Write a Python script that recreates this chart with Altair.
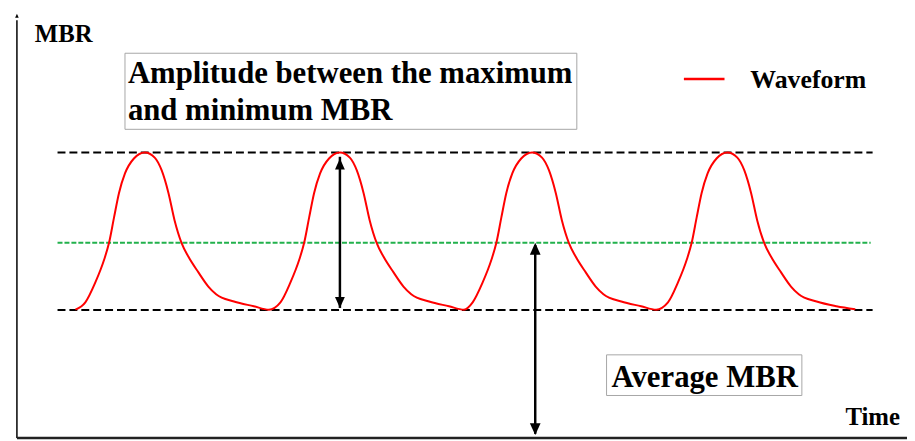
import altair as alt
import pandas as pd

# ---------------- data ----------------
# waveform samples: time (s) and MBR value
wave_time = [
    0.301, 0.352, 0.403, 0.449, 0.474, 0.500, 0.525, 0.556, 0.602, 0.658, 0.709,
    0.745, 0.780, 0.811, 0.847, 0.882, 0.934, 0.985, 1.025, 1.117, 1.219, 1.296,
    1.356, 1.407, 1.453, 1.478, 1.504, 1.529, 1.560, 1.606, 1.662, 1.713, 1.749,
    1.784, 1.815, 1.851, 1.886, 1.938, 1.989, 2.029, 2.121, 2.223, 2.300,
    2.345, 2.396, 2.442, 2.467, 2.493, 2.518, 2.549, 2.595, 2.651, 2.702, 2.738,
    2.773, 2.804, 2.840, 2.875, 2.927, 2.978, 3.018, 3.110, 3.212, 3.289,
    3.350, 3.401, 3.447, 3.472, 3.498, 3.523, 3.554, 3.600, 3.656, 3.707, 3.743,
    3.778, 3.809, 3.845, 3.880, 3.932, 3.983, 4.023, 4.115, 4.217, 4.314,
]
wave_mbr = [
    3.00, 3.17, 3.63, 4.17, 4.56, 5.16, 5.72, 6.18, 6.53, 6.67, 6.55,
    6.25, 5.72, 5.09, 4.56, 4.24, 3.87, 3.54, 3.36, 3.19, 3.08, 3.00,
    3.17, 3.63, 4.17, 4.56, 5.16, 5.72, 6.18, 6.53, 6.67, 6.55, 6.25,
    5.72, 5.09, 4.56, 4.24, 3.87, 3.54, 3.36, 3.19, 3.08, 3.00,
    3.17, 3.63, 4.17, 4.56, 5.16, 5.72, 6.18, 6.53, 6.67, 6.55, 6.25,
    5.72, 5.09, 4.56, 4.24, 3.87, 3.54, 3.36, 3.19, 3.08, 3.00,
    3.17, 3.63, 4.17, 4.56, 5.16, 5.72, 6.18, 6.53, 6.67, 6.55, 6.25,
    5.72, 5.09, 4.56, 4.24, 3.87, 3.54, 3.36, 3.19, 3.08, 3.01,
]

mbr_max = 6.67
mbr_min = 2.99
mbr_avg = 4.56
ref_start, ref_end = 0.209, 4.403      # extent of the max / min dashed lines
avg_start, avg_end = 0.209, 4.393      # extent of the average dashed line

amp_arrow_t = 1.662                    # amplitude double arrow
avg_arrow_t = 2.667                    # average double arrow

axis_top = 9.91                        # tip of the y-axis arrow
time_max = 4.58

amp_lines = ["Amplitude between the maximum", "and minimum MBR"]
amp_box = dict(t0=0.556, t1=2.881, v0=7.211, v1=8.988)
amp_text = dict(t=0.571, v=[8.294, 7.431])
avg_label = "Average MBR"
avg_box = dict(t0=3.034, t1=4.039, v0=0.995, v1=1.944)
avg_text = dict(t=3.060, v=1.204)
legend_label = "Waveform"
legend_line = dict(t0=3.432, t1=3.641, v=8.387)
legend_text = dict(t=3.774, v=8.171)
y_title = dict(text="MBR", t=0.092, v=9.243)
x_title = dict(text="Time", t=4.263, v=0.301)

# ---------------- chart ----------------
FONT = "'Times New Roman', 'Liberation Serif', Times, serif"
xs = alt.Scale(domain=[0, time_max], nice=False, zero=False)
ys = alt.Scale(domain=[0, 10], nice=False, zero=False)


def X(f):
    return alt.X(f, type="quantitative", scale=xs, axis=None)


def Y(f):
    return alt.Y(f, type="quantitative", scale=ys, axis=None)


UP = "M0,0 L-0.45,1 L0.45,1 Z"
DOWN = "M0,0 L-0.45,-1 L0.45,-1 Z"

wave_df = pd.DataFrame({"t": wave_time, "v": wave_mbr})
wave = alt.Chart(wave_df).mark_line(color="#ff0000", strokeWidth=2, interpolate="monotone").encode(
    x=X("t"), y=Y("v"))

ref_df = pd.DataFrame({"t0": [ref_start, ref_start], "t1": [ref_end, ref_end], "v": [mbr_max, mbr_min]})
ref = alt.Chart(ref_df).mark_rule(color="#000000", strokeWidth=2, strokeDash=[8, 4]).encode(
    x=X("t0"), x2="t1", y=Y("v"))

avg_df = pd.DataFrame({"t0": [avg_start], "t1": [avg_end], "v": [mbr_avg]})
avg = alt.Chart(avg_df).mark_rule(color="#22b14c", strokeWidth=2, strokeDash=[5, 2]).encode(
    x=X("t0"), x2="t1", y=Y("v"))

# axes drawn as arrows
axes_df = pd.DataFrame({"t0": [0, 0], "t1": [0, time_max], "v0": [0, 0], "v1": [axis_top - 0.15, 0]})
yaxis = alt.Chart(axes_df.iloc[[0]]).mark_rule(color="#000000", strokeWidth=1.5).encode(
    x=X("t0"), y=Y("v0"), y2="v1")
xaxis = alt.Chart(axes_df.iloc[[1]]).mark_rule(color="#222222", strokeWidth=2.5).encode(
    x=X("t0"), x2="t1", y=Y("v0"))
yhead = alt.Chart(pd.DataFrame({"t": [0], "v": [axis_top]})).mark_point(
    shape=UP, filled=True, size=64, color="#000000", opacity=1, strokeWidth=0).encode(x=X("t"), y=Y("v"))

# double arrows
shaft_df = pd.DataFrame({"t": [amp_arrow_t, avg_arrow_t], "v0": [mbr_min + 0.05, 0.1],
                         "v1": [mbr_max - 0.1, mbr_avg - 0.05]})
shafts = alt.Chart(shaft_df).mark_rule(color="#000000", strokeWidth=2.5).encode(
    x=X("t"), y=Y("v0"), y2="v1")
amp_up = alt.Chart(pd.DataFrame({"t": [amp_arrow_t], "v": [mbr_max - 0.14]})).mark_point(
    shape=UP, filled=True, size=484, color="#000000", opacity=1, strokeWidth=0).encode(x=X("t"), y=Y("v"))
amp_down = alt.Chart(pd.DataFrame({"t": [amp_arrow_t], "v": [mbr_min + 0.05]})).mark_point(
    shape=DOWN, filled=True, size=484, color="#000000", opacity=1, strokeWidth=0).encode(x=X("t"), y=Y("v"))
avg_up = alt.Chart(pd.DataFrame({"t": [avg_arrow_t], "v": [mbr_avg]})).mark_point(
    shape=UP, filled=True, size=576, color="#000000", opacity=1, strokeWidth=0).encode(x=X("t"), y=Y("v"))
avg_down = alt.Chart(pd.DataFrame({"t": [avg_arrow_t], "v": [0.07]})).mark_point(
    shape=DOWN, filled=True, size=576, color="#000000", opacity=1, strokeWidth=0).encode(x=X("t"), y=Y("v"))

# text boxes
box_df = pd.DataFrame([amp_box, avg_box])
boxes = alt.Chart(box_df).mark_rect(fill="#ffffff", stroke="#a6a6a6", strokeWidth=1).encode(
    x=X("t0"), x2="t1", y=Y("v0"), y2="v1")

big_df = pd.DataFrame({
    "t": [amp_text["t"], amp_text["t"], avg_text["t"]],
    "v": [amp_text["v"][0], amp_text["v"][1], avg_text["v"]],
    "label": [amp_lines[0], amp_lines[1], avg_label],
})
big_text = alt.Chart(big_df).mark_text(
    align="left", baseline="alphabetic", font=FONT, fontWeight="bold", fontSize=31, color="#000000"
).encode(x=X("t"), y=Y("v"), text="label")

small_df = pd.DataFrame({
    "t": [y_title["t"], x_title["t"]],
    "v": [y_title["v"], x_title["v"]],
    "label": [y_title["text"], x_title["text"]],
})
small_text = alt.Chart(small_df).mark_text(
    align="left", baseline="alphabetic", font=FONT, fontWeight="bold", fontSize=25, color="#000000"
).encode(x=X("t"), y=Y("v"), text="label")

leg_text_df = pd.DataFrame({"t": [legend_text["t"]], "v": [legend_text["v"]], "label": [legend_label]})
leg_text = alt.Chart(leg_text_df).mark_text(
    align="left", baseline="alphabetic", font=FONT, fontWeight="bold", fontSize=26, color="#000000"
).encode(x=X("t"), y=Y("v"), text="label")

leg_df = pd.DataFrame({"t0": [legend_line["t0"]], "t1": [legend_line["t1"]], "v": [legend_line["v"]]})
leg_line = alt.Chart(leg_df).mark_rule(color="#ff0000", strokeWidth=2.5).encode(
    x=X("t0"), x2="t1", y=Y("v"))

chart = alt.layer(
    ref, avg, wave, yaxis, xaxis, yhead, shafts, amp_up, amp_down, avg_up, avg_down,
    boxes, big_text, small_text, leg_text, leg_line,
).properties(
    width=898, height=432,
    autosize=alt.AutoSizeParams(type="none"),
    padding={"left": 9, "top": 0, "right": 0, "bottom": 0},
).configure_view(stroke=None)

chart.save("out.html", embed_options={"renderer": "svg", "actions": False})
